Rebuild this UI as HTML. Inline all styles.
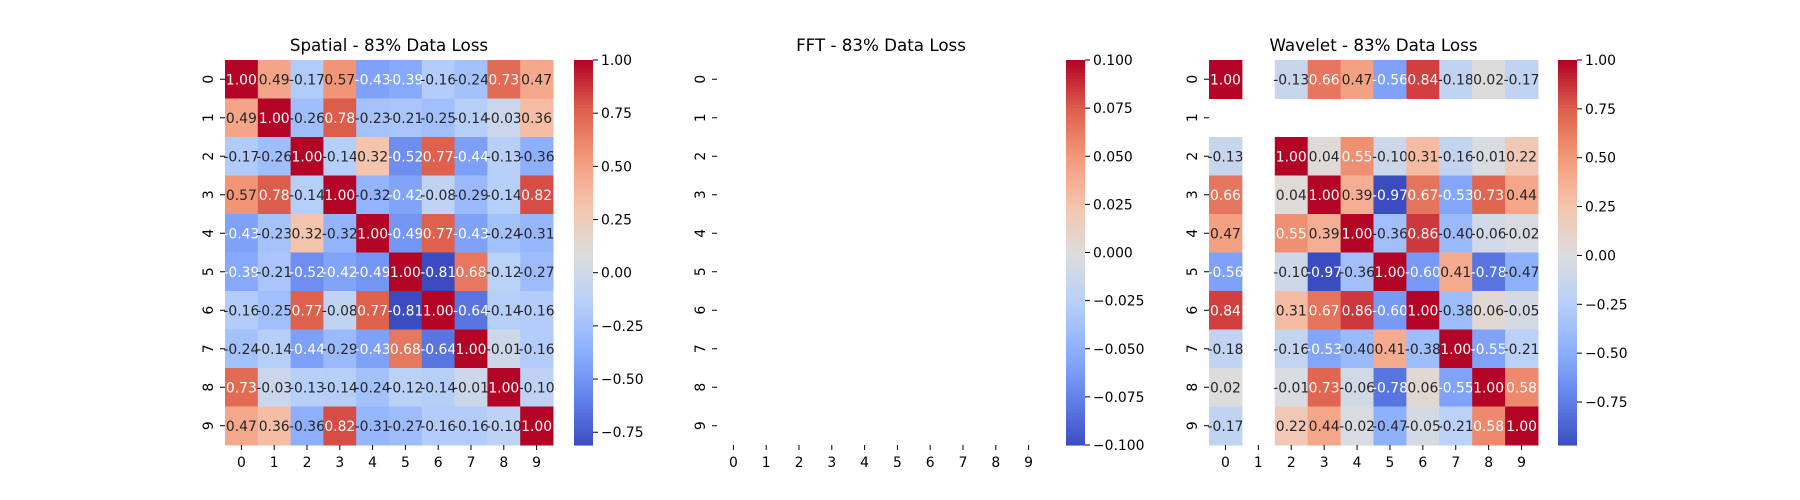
<!DOCTYPE html>
<html><head><meta charset="utf-8"><style>
body{margin:0;background:#fff;}
svg{display:block;font-family:"DejaVu Sans","Liberation Sans",sans-serif;}
</style></head><body>
<svg id="fig" width="1800" height="500" viewBox="0 0 1800 500"></svg>
<script>
const labels = ['0','1','2','3','4','5','6','7','8','9'];
const spatialValues = [
[1.00,0.49,-0.17,0.57,-0.43,-0.39,-0.16,-0.24,0.73,0.47],
[0.49,1.00,-0.26,0.78,-0.23,-0.21,-0.25,-0.14,-0.03,0.36],
[-0.17,-0.26,1.00,-0.14,0.32,-0.52,0.77,-0.44,-0.13,-0.36],
[0.57,0.78,-0.14,1.00,-0.32,-0.42,-0.08,-0.29,-0.14,0.82],
[-0.43,-0.23,0.32,-0.32,1.00,-0.49,0.77,-0.43,-0.24,-0.31],
[-0.39,-0.21,-0.52,-0.42,-0.49,1.00,-0.81,0.68,-0.12,-0.27],
[-0.16,-0.25,0.77,-0.08,0.77,-0.81,1.00,-0.64,-0.14,-0.16],
[-0.24,-0.14,-0.44,-0.29,-0.43,0.68,-0.64,1.00,-0.01,-0.16],
[0.73,-0.03,-0.13,-0.14,-0.24,-0.12,-0.14,-0.01,1.00,-0.10],
[0.47,0.36,-0.36,0.82,-0.31,-0.27,-0.16,-0.16,-0.10,1.00]];
const fftValues = [
[null,null,null,null,null,null,null,null,null,null],
[null,null,null,null,null,null,null,null,null,null],
[null,null,null,null,null,null,null,null,null,null],
[null,null,null,null,null,null,null,null,null,null],
[null,null,null,null,null,null,null,null,null,null],
[null,null,null,null,null,null,null,null,null,null],
[null,null,null,null,null,null,null,null,null,null],
[null,null,null,null,null,null,null,null,null,null],
[null,null,null,null,null,null,null,null,null,null],
[null,null,null,null,null,null,null,null,null,null]];
const waveletValues = [
[1.00,null,-0.13,0.66,0.47,-0.56,0.84,-0.18,0.02,-0.17],
[null,null,null,null,null,null,null,null,null,null],
[-0.13,null,1.00,0.04,0.55,-0.10,0.31,-0.16,-0.01,0.22],
[0.66,null,0.04,1.00,0.39,-0.97,0.67,-0.53,0.73,0.44],
[0.47,null,0.55,0.39,1.00,-0.36,0.86,-0.40,-0.06,-0.02],
[-0.56,null,-0.10,-0.97,-0.36,1.00,-0.60,0.41,-0.78,-0.47],
[0.84,null,0.31,0.67,0.86,-0.60,1.00,-0.38,0.06,-0.05],
[-0.18,null,-0.16,-0.53,-0.40,0.41,-0.38,1.00,-0.55,-0.21],
[0.02,null,-0.01,0.73,-0.06,-0.78,0.06,-0.55,1.00,0.58],
[-0.17,null,0.22,0.44,-0.02,-0.47,-0.05,-0.21,0.58,1.00]];
const spatialTicks = [1.00,0.75,0.50,0.25,0.00,-0.25,-0.50,-0.75];
const fftTicks = [0.100,0.075,0.050,0.025,0.000,-0.025,-0.050,-0.075,-0.100];
const waveletTicks = [1.00,0.75,0.50,0.25,0.00,-0.25,-0.50,-0.75];

const NS='http://www.w3.org/2000/svg';
const svg=document.getElementById('fig');
const stops=[[59,76,192],[98,130,234],[141,176,254],[184,208,249],[221,221,221],[245,196,173],[244,154,123],[222,96,77],[180,4,38]];
function cmap(t){t=Math.max(0,Math.min(1,t));const p=t*8;const i=Math.min(7,Math.floor(p));const f=p-i;const a=stops[i],b=stops[i+1];
return [0,1,2].map(k=>Math.round(a[k]+(b[k]-a[k])*f));}
function lum(c){const l=c.map(v=>{v/=255;return v<=0.03928?v/12.92:Math.pow((v+0.055)/1.055,2.4);});return 0.2126*l[0]+0.7152*l[1]+0.0722*l[2];}
function mk(tag,attrs,parent){const e=document.createElementNS(NS,tag);for(const k in attrs)e.setAttribute(k,attrs[k]);(parent||svg).appendChild(e);return e;}

function panel(cfg){
  const g=mk('g',{});
  
  
  const {x0,x1,y0,y1,vals,vmin,vmax,cbx,ticks,dec}=cfg;
  const n=labels.length;
  const cw=(x1-x0)/n, ch=(y1-y0)/n;
  const xs=i=>x0+i*cw, ys=j=>y0+j*ch;
  const t=mk('text',{x:(x0+x1)/2,y:51,'text-anchor':'middle','font-size':'16.7px',fill:'#000'},g);
  t.textContent=cfg.title;
  
  
  for(let r=0;r<n;r++)for(let c=0;c<n;c++){
    const v=vals[r][c]; if(v===null) continue;
    const col=cmap((v-vmin)/(vmax-vmin));
    const rect=mk('rect',{x:xs(c),y:ys(r),width:cw+0.5,height:ch+0.5,fill:`rgb(${col})`},g);
    
    
    const tx=mk('text',{x:xs(c)+cw/2,y:ys(r)+ch/2+5,'text-anchor':'middle','font-size':'13.9px',fill:lum(col)<0.408?'#fff':'#262626'},g);
    tx.textContent=v.toFixed(2);
    
    
  }
  for(let i=0;i<n;i++){
    const cx=xs(i)+cw/2;
    mk('line',{x1:cx,x2:cx,y1:y1,y2:y1+5,stroke:'#000','stroke-width':1},g);
    const xl=mk('text',{x:cx,y:y1+22,'text-anchor':'middle','font-size':'13.9px'},g);
    xl.textContent=labels[i];
    
    
    const cy=ys(i)+ch/2;
    mk('line',{x1:x0-5,x2:x0,y1:cy,y2:cy,stroke:'#000','stroke-width':1},g);
    const yl=mk('text',{x:0,y:0,'text-anchor':'middle','font-size':'13.9px',transform:`translate(${x0-12},${cy}) rotate(-90)`},g);
    yl.textContent=labels[i];
    
    
  }
  const cbw=19, steps=120;
  for(let k=0;k<steps;k++){
    const col=cmap(1-k/steps);
    const cr=mk('rect',{x:cbx,y:y0+k*(y1-y0)/steps,width:cbw,height:(y1-y0)/steps+0.6,fill:`rgb(${col})`},g);
    
    
  }
  ticks.forEach(v=>{
    const y=y0+(vmax-v)/(vmax-vmin)*(y1-y0);
    mk('line',{x1:cbx+cbw,x2:cbx+cbw+5,y1:y,y2:y,stroke:'#000','stroke-width':1},g);
    const tl=mk('text',{x:cbx+cbw+8,y:y+5,'font-size':'13.9px'},g);
    tl.textContent=v.toFixed(dec).replace('-','\u2212');
    
    
  });
}
panel({name:'spatial',title:'Spatial - 83% Data Loss',x0:225,x1:553,y0:60,y1:445,vals:spatialValues,vmin:-0.81,vmax:1,cbx:574,ticks:spatialTicks,dec:2});
panel({name:'fft',title:'FFT - 83% Data Loss',x0:717,x1:1045,y0:60,y1:445,vals:fftValues,vmin:-0.1,vmax:0.1,cbx:1066,ticks:fftTicks,dec:3});
panel({name:'wavelet',title:'Wavelet - 83% Data Loss',x0:1209,x1:1538,y0:60,y1:445,vals:waveletValues,vmin:-0.97,vmax:1,cbx:1558,ticks:waveletTicks,dec:2});
</script>
</body></html>
